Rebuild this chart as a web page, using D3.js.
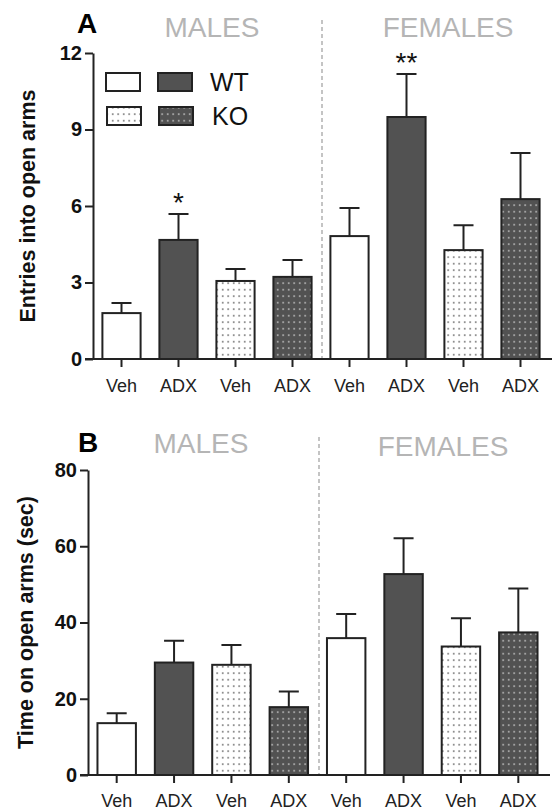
<!DOCTYPE html>
<html>
<head>
<meta charset="utf-8">
<script src="https://cdn.jsdelivr.net/npm/d3@7"></script>
<style>
  body { margin: 0; background: #fff; }
  svg { display: block; font-family: "Liberation Sans", Arial, sans-serif; }
  .axis path, .axis line { stroke: #222; stroke-width: 2px; }
  .yaxis text { font-size: 20px; font-weight: bold; fill: #111; }
  .xaxis text { font-size: 18px; fill: #222; }
</style>
</head>
<body>
<div class="chart"></div>
<script>
// categories and values
var groups = ["Veh", "ADX", "Veh", "ADX", "Veh", "ADX", "Veh", "ADX"];
var genotype = ["WT", "WT", "KO", "KO", "WT", "WT", "KO", "KO"];
var entriesMean = [1.8, 4.67, 3.06, 3.22, 4.82, 9.49, 4.27, 6.27];
var entriesSem = [0.4, 1.02, 0.47, 0.66, 1.1, 1.69, 0.98, 1.81];
var timeMean = [13.6, 29.5, 28.9, 17.8, 35.9, 52.7, 33.7, 37.4];
var timeSem = [2.6, 5.7, 5.2, 4.1, 6.3, 9.4, 7.4, 11.5];
var entriesTicks = [0, 3, 6, 9, 12];
var timeTicks = [0, 20, 40, 60, 80];
var entriesStars = ["", "*", "", "", "", "**", "", ""];
var timeStars = ["", "", "", "", "", "", "", ""];
var legendKeys = ["WT", "KO"];

var svgWidth = 555;
var svgHeight = 811;

var svg = d3.select(".chart")
  .append("svg")
  .attr("width", svgWidth)
  .attr("height", svgHeight);

// dot patterns for the KO bars
var defs = svg.append("defs");
function dotPattern(id, bg, dot) {
  var p = defs.append("pattern")
    .attr("id", id)
    .attr("patternUnits", "userSpaceOnUse")
    .attr("width", 5.5)
    .attr("height", 6.5);
  p.append("rect").attr("width", 5.5).attr("height", 6.5).attr("fill", bg);
  p.append("rect").attr("x", 2).attr("y", 3).attr("width", 1.4).attr("height", 1.4).attr("fill", dot);
}
dotPattern("dotsLight", "#fff", "#444");
dotPattern("dotsDark", "#525252", "#dedede");

function barFill(i) {
  var dark = groups[i] === "ADX";
  if (genotype[i] === "WT") return dark ? "#525252" : "#fff";
  return dark ? "url(#dotsDark)" : "url(#dotsLight)";
}

function drawPanel(cfg) {
  var g = svg.append("g");

  var x = d3.scaleBand()
    .domain(d3.range(groups.length))
    .range(cfg.xRange)
    .paddingInner(0.33)
    .paddingOuter(0.165);

  var y = d3.scaleLinear()
    .domain([0, d3.max(cfg.ticks)])
    .range(cfg.yRange);

  // divider between sexes
  g.append("line")
    .attr("x1", cfg.divX).attr("x2", cfg.divX)
    .attr("y1", cfg.divTop).attr("y2", y(0))
    .attr("stroke", "#c4c4c4")
    .attr("stroke-width", 2)
    .attr("stroke-dasharray", "4,3");

  // error bars (upper only)
  g.selectAll(".err")
    .data(cfg.mean)
    .enter()
    .append("path")
    .attr("fill", "none")
    .attr("stroke", "#222")
    .attr("stroke-width", 2)
    .attr("d", function(d, i) {
      var cx = x(i) + x.bandwidth() / 2;
      var top = y(d + cfg.sem[i]);
      return "M" + cx + "," + y(d) + "V" + top + "M" + (cx - 10) + "," + top + "H" + (cx + 10);
    });

  g.selectAll(".bar")
    .data(cfg.mean)
    .enter()
    .append("rect")
    .attr("x", function(d, i) { return x(i); })
    .attr("y", function(d) { return y(d); })
    .attr("width", x.bandwidth())
    .attr("height", function(d) { return y(0) - y(d); })
    .attr("fill", function(d, i) { return barFill(i); })
    .attr("stroke", "#222")
    .attr("stroke-width", 2);

  // significance stars
  g.selectAll(".star")
    .data(cfg.mean)
    .enter()
    .append("text")
    .attr("x", function(d, i) { return x(i) + x.bandwidth() / 2; })
    .attr("y", function(d, i) { return y(d + cfg.sem[i]) - 2; })
    .attr("text-anchor", "middle")
    .attr("font-size", "28px")
    .attr("fill", "#111")
    .text(function(d, i) { return cfg.stars[i]; });

  var xAxis = d3.axisBottom(x)
    .tickFormat(function(i) { return groups[i]; })
    .tickSize(8)
    .tickSizeOuter(0)
    .tickPadding(cfg.xPad);

  var xg = g.append("g")
    .attr("class", "axis xaxis")
    .attr("transform", "translate(0," + y(0) + ")")
    .call(xAxis);
  xg.select(".domain").attr("d", "M" + (cfg.xRange[0] - 8) + ",0H" + (cfg.xRange[1] + 3));
  xg.selectAll("text").attr("font-family", null).attr("font-size", null);

  var yAxis = d3.axisLeft(y)
    .tickValues(cfg.ticks)
    .tickSize(8)
    .tickSizeOuter(0)
    .tickPadding(3);

  var yg = g.append("g")
    .attr("class", "axis yaxis")
    .attr("transform", "translate(" + cfg.xRange[0] + ",0)")
    .call(yAxis);
  yg.selectAll("text").attr("font-family", null).attr("font-size", null);

  // y title
  g.append("text")
    .attr("transform", "translate(" + cfg.titleX + "," + ((cfg.yRange[0] + cfg.yRange[1]) / 2) + ") rotate(-90)")
    .attr("text-anchor", "middle")
    .attr("dy", "0.35em")
    .attr("font-size", "21.5px")
    .attr("font-weight", "bold")
    .attr("fill", "#111")
    .text(cfg.yTitle);

  // panel letter
  g.append("text")
    .attr("x", cfg.letterX)
    .attr("y", cfg.letterY)
    .attr("font-size", "28px")
    .attr("font-weight", "bold")
    .attr("fill", "#000")
    .text(cfg.letter);

  // sex headings
  cfg.heads.forEach(function(h) {
    g.append("text")
      .attr("x", h.x)
      .attr("y", h.y)
      .attr("text-anchor", "middle")
      .attr("font-size", "28px")
      .attr("fill", "#b5b5b5")
      .text(h.label);
  });

  return g;
}

drawPanel({
  mean: entriesMean, sem: entriesSem, ticks: entriesTicks, stars: entriesStars,
  xRange: [93, 549], yRange: [359, 53], xPad: 12,
  divX: 322, divTop: 20, titleX: 27,
  yTitle: "Entries into open arms",
  letter: "A", letterX: 77, letterY: 33,
  heads: [{label: "MALES", x: 212, y: 37}, {label: "FEMALES", x: 448, y: 37}]
});

drawPanel({
  mean: timeMean, sem: timeSem, ticks: timeTicks, stars: timeStars,
  xRange: [88, 547], yRange: [775, 470], xPad: 11,
  divX: 319, divTop: 437, titleX: 25,
  yTitle: "Time on open arms (sec)",
  letter: "B", letterX: 78, letterY: 452,
  heads: [{label: "MALES", x: 201, y: 453}, {label: "FEMALES", x: 443, y: 456}]
});

// legend in panel A
var legend = svg.append("g");
var legendFills = [["#fff", "#525252"], ["url(#dotsLight)", "url(#dotsDark)"]];
legendKeys.forEach(function(k, r) {
  var cy = 82 + r * 34;
  legendFills[r].forEach(function(f, c) {
    legend.append("rect")
      .attr("x", 106 + c * 52 + (r ? 1 : 0))
      .attr("y", cy - 9)
      .attr("width", 34)
      .attr("height", 18)
      .attr("fill", f)
      .attr("stroke", "#222")
      .attr("stroke-width", 2);
  });
  legend.append("text")
    .attr("x", 210 + r * 2)
    .attr("y", cy)
    .attr("dy", "0.36em")
    .attr("font-size", "25px")
    .attr("fill", "#111")
    .text(k);
});
</script>
</body>
</html>
